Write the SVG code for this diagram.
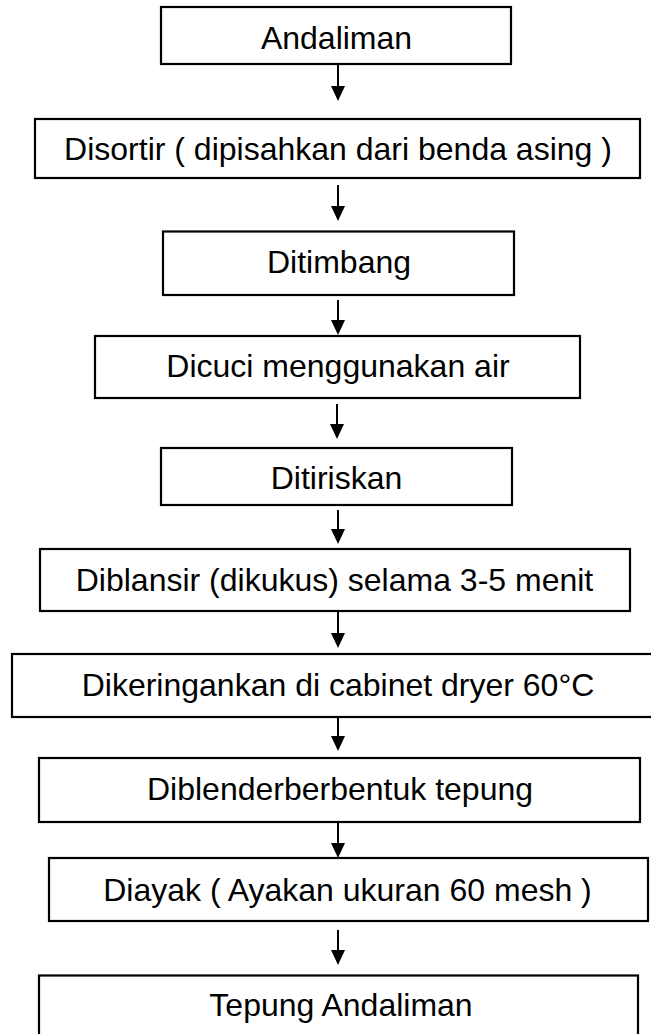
<svg xmlns="http://www.w3.org/2000/svg" width="651" height="1034" viewBox="0 0 651 1034">
<style>
.box{fill:#fff;stroke:#000;stroke-width:2.2}
.lbl{font-family:"Liberation Sans",Arial,sans-serif;font-size:32px;fill:#000;text-anchor:middle}
.arr{stroke:#000;stroke-width:2;fill:none;marker-end:url(#ah)}
</style>
<defs>
<marker id="ah" markerUnits="userSpaceOnUse" viewBox="0 0 15 14" markerWidth="15" markerHeight="14" refX="5" refY="7" orient="auto">
<path d="M0,0 L15,7 L0,14 z" fill="#000"/>
</marker>
</defs>
<rect width="651" height="1034" fill="#fff"/>
<g id="connectors">
<line class="arr" x1="338" y1="65" x2="338" y2="91"/>
<line class="arr" x1="338" y1="185" x2="338" y2="211"/>
<line class="arr" x1="338" y1="300" x2="338" y2="325"/>
<line class="arr" x1="337" y1="404" x2="337" y2="429"/>
<line class="arr" x1="338" y1="510" x2="338" y2="534"/>
<line class="arr" x1="338" y1="611" x2="338" y2="638"/>
<line class="arr" x1="338" y1="718" x2="338" y2="741"/>
<line class="arr" x1="338" y1="823" x2="338" y2="848"/>
<line class="arr" x1="338" y1="930" x2="338" y2="955"/>
</g>
<g id="n1"><rect class="box" x="161" y="7" width="350" height="57"/><text class="lbl" x="336.5" y="49">Andaliman</text></g>
<g id="n2"><rect class="box" x="35" y="119" width="605" height="59"/><text class="lbl" x="338" y="160">Disortir ( dipisahkan dari benda asing )</text></g>
<g id="n3"><rect class="box" x="163" y="231.5" width="351" height="63.5"/><text class="lbl" x="339" y="272.7">Ditimbang</text></g>
<g id="n4"><rect class="box" x="95" y="336" width="485" height="62"/><text class="lbl" x="338" y="376.7">Dicuci menggunakan air</text></g>
<g id="n5"><rect class="box" x="161" y="448" width="351" height="57"/><text class="lbl" x="336.5" y="488.5">Ditiriskan</text></g>
<g id="n6"><rect class="box" x="40" y="549" width="590" height="62"/><text class="lbl" x="334.5" y="591">Diblansir (dikukus) selama 3-5 menit</text></g>
<g id="n7"><rect class="box" x="12" y="654" width="652" height="63"/><text class="lbl" x="338" y="696">Dikeringankan di cabinet dryer 60°C</text></g>
<g id="n8"><rect class="box" x="39" y="758" width="601" height="64"/><text class="lbl" x="340" y="800">Diblenderberbentuk tepung</text></g>
<g id="n9"><rect class="box" x="49" y="858" width="599" height="63"/><text class="lbl" x="347.5" y="900.7">Diayak ( Ayakan ukuran 60 mesh )</text></g>
<g id="n10"><rect class="box" x="39" y="975.5" width="599" height="70"/><text class="lbl" x="341" y="1015.7">Tepung Andaliman</text></g>
</svg>
